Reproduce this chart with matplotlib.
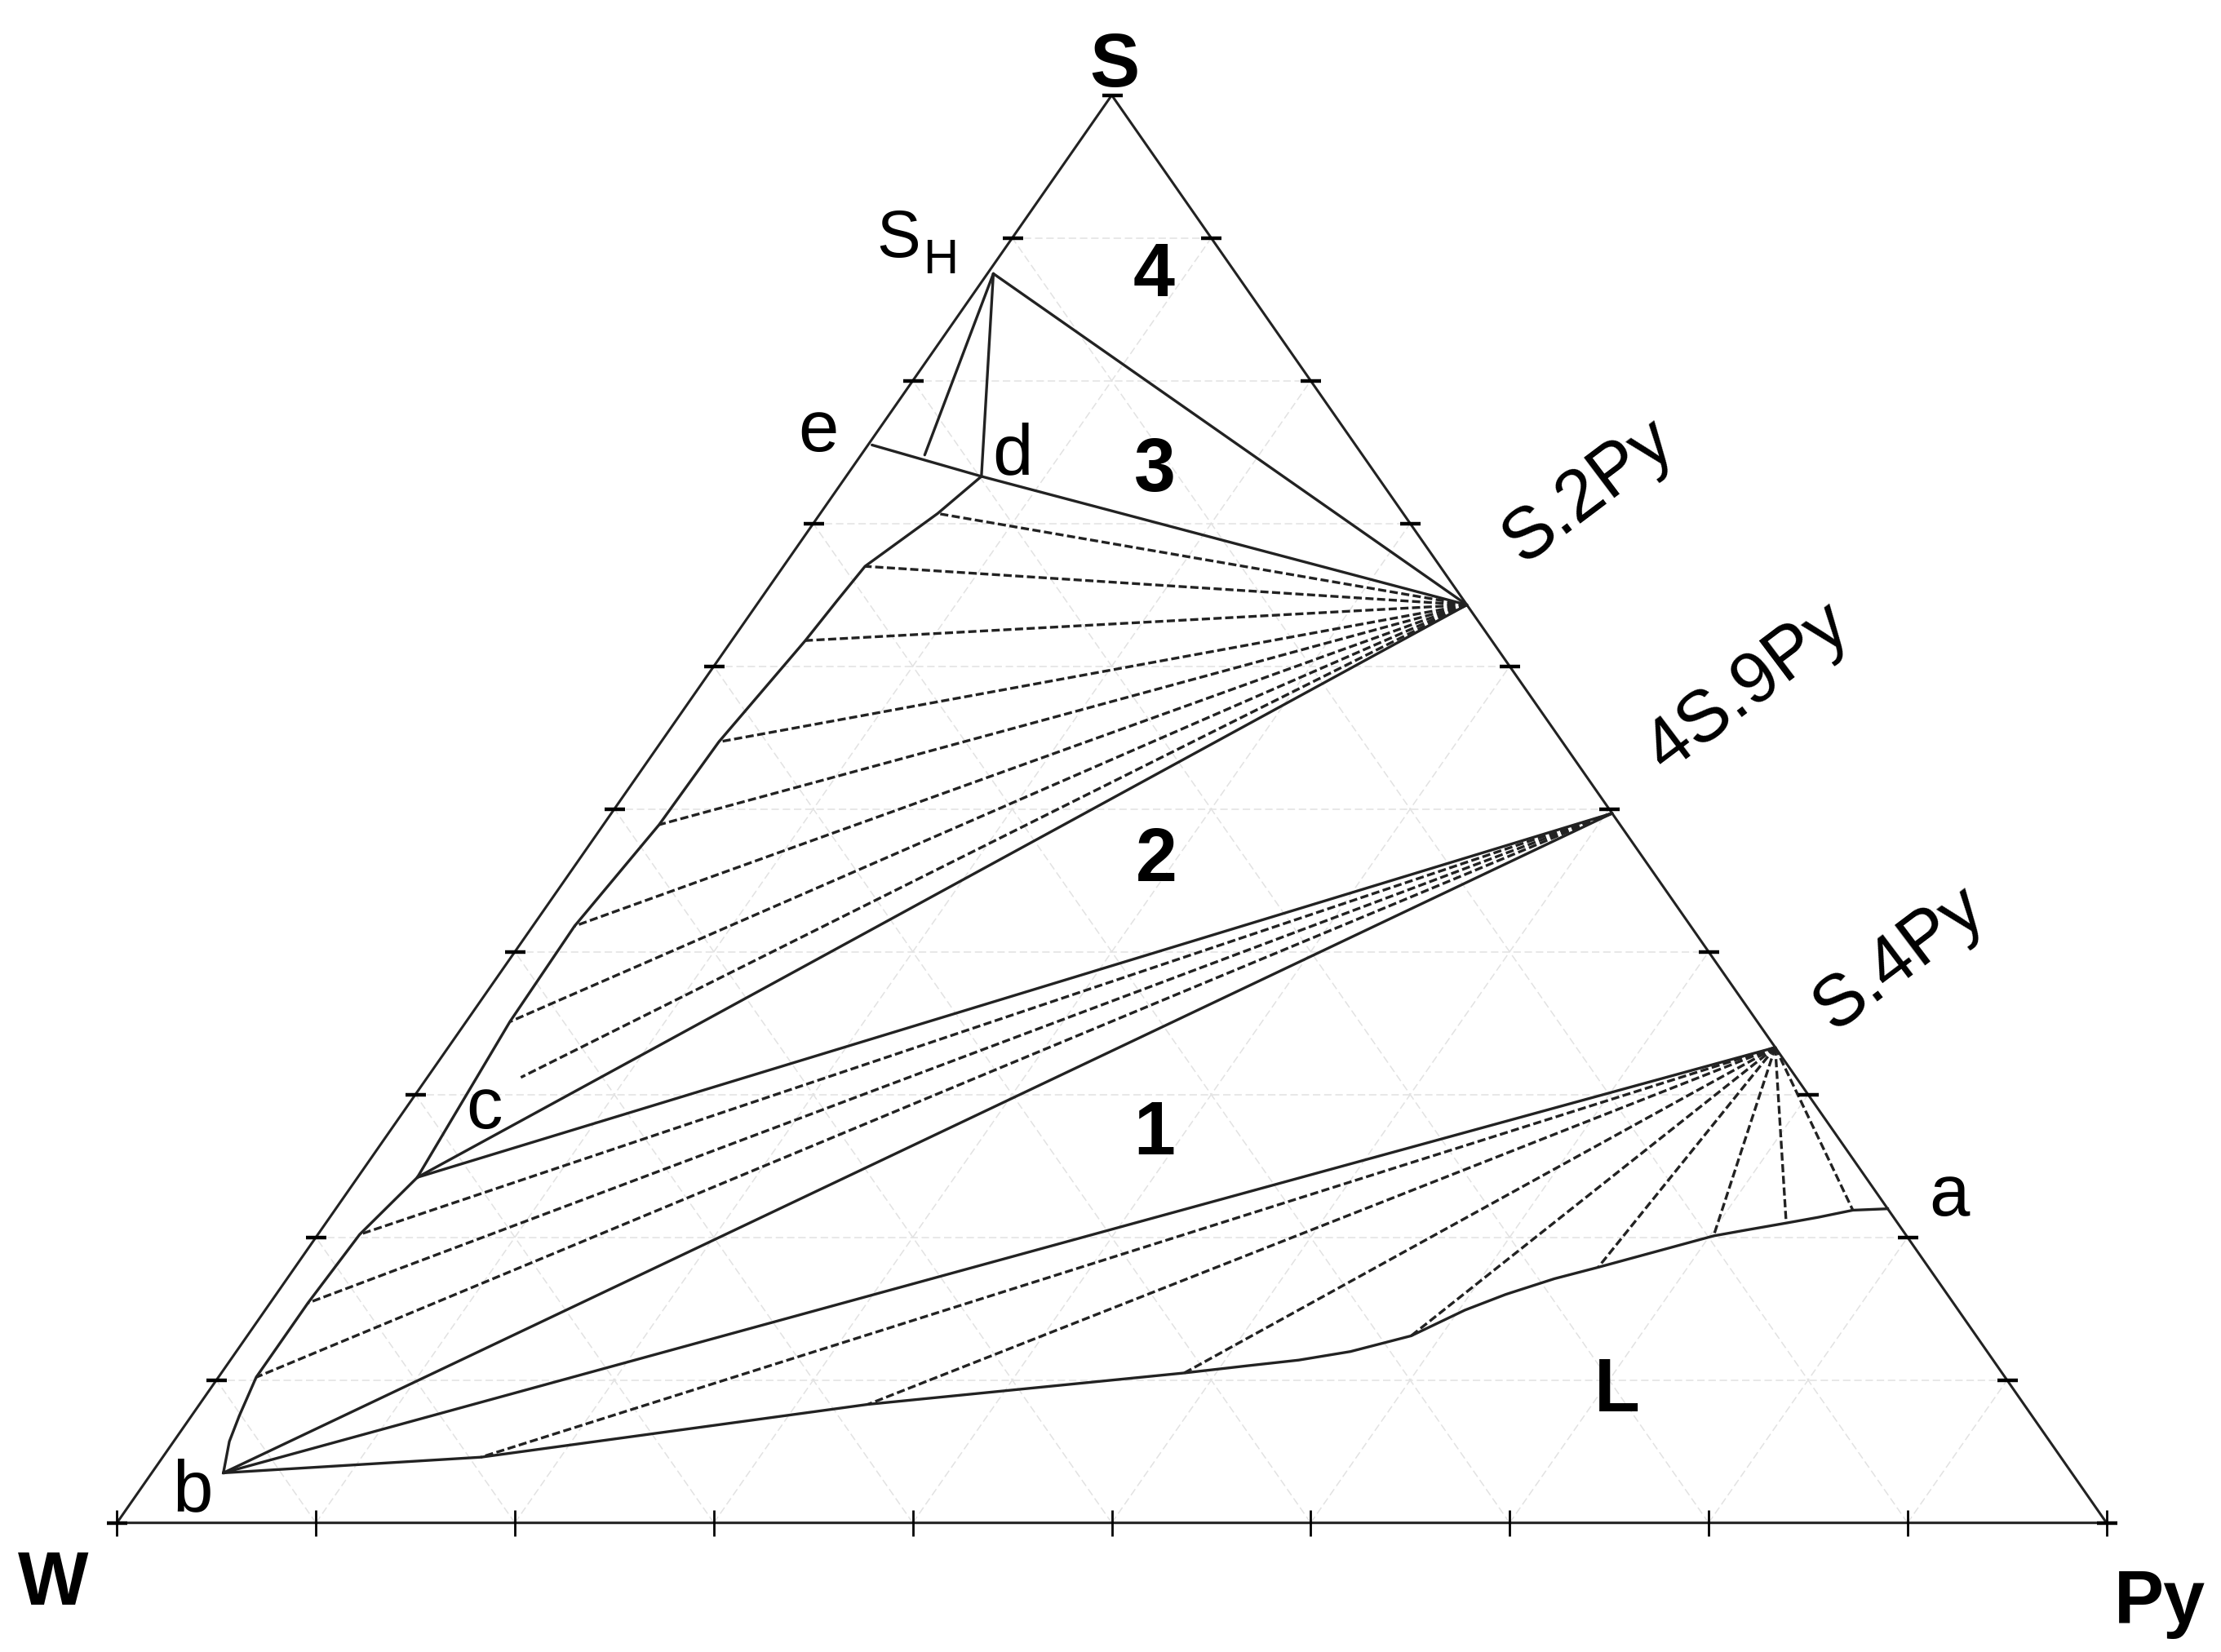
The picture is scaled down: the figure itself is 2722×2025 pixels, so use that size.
import numpy as np
import matplotlib.pyplot as plt

plt.rcParams['font.family'] = ['Liberation Sans', 'DejaVu Sans']

# === Compositions, in percent: (S, Py); W = 100 - S - Py ===
SH = (87.5, 0.3)
E_PT = (75.5, 0.2)
ED_MID = (74.8, 3.2)
D_PT = (73.3, 6.8)
C_PT = (24.2, 3.0)
B_PT = (3.5, 3.6)
A_PT = (22.0, 78.0)
S2PY = (64.3, 35.7)
S49PY = (49.7, 50.3)
S4PY = (33.3, 66.7)

# boundary curve d -> c
dc_S = [73.3, 70.7, 67.0, 64.6, 61.8, 54.7, 48.9, 41.8, 35.1, 24.2]
dc_Py = [6.8, 5.9, 4.1, 3.9, 3.7, 2.9, 2.8, 2.1, 2.2, 3.0]

# boundary curve c -> b
cb_S = [24.2, 20.2, 15.4, 10.2, 7.5, 5.7, 3.5]
cb_Py = [3.0, 2.1, 1.9, 1.9, 2.4, 2.8, 3.6]

# liquidus curve b -> a
L_S = [3.5, 4.6, 8.3, 10.5, 11.0, 11.4, 12.0, 13.1, 14.9, 16.0, 17.1, 17.9,
       20.1, 20.5, 21.0, 21.4, 21.9, 22.0]
L_Py = [3.6, 16.0, 33.6, 48.4, 51.3, 53.7, 56.0, 58.5, 60.3, 61.8, 63.7, 65.5,
        70.2, 71.6, 73.4, 74.8, 76.3, 78.0]

# dashed tie-line ends for each fan
tie1_S = [70.7, 67.0, 61.8, 54.7, 48.9, 41.8, 35.1, 31.2]   # from S.2Py
tie1_Py = [5.9, 4.1, 3.7, 2.9, 2.8, 2.1, 2.2, 4.7]
tie2_S = [20.2, 15.4, 10.2]                                  # from 4S.9Py
tie2_Py = [2.1, 1.9, 1.9]
tie3_S = [4.6, 8.3, 10.5, 13.1, 17.9, 20.1, 21.0, 21.9]       # from S.4Py
tie3_Py = [16.0, 33.6, 48.4, 58.5, 65.5, 70.2, 73.4, 76.3]

grid_levels = [10, 20, 30, 40, 50, 60, 70, 80, 90]
tick_levels = [0, 10, 20, 30, 40, 50, 60, 70, 80, 90, 100]


def to_xy(S, Py):
    S = np.asarray(S, dtype=float)
    Py = np.asarray(Py, dtype=float)
    return (Py + S / 2) / 100, S / 100


LINE_C = '#222222'
LW = 2.4
DASH = (0, (3.0, 1.3))

fig = plt.figure(figsize=(27.22, 20.25), dpi=100)
fig.patch.set_facecolor('white')
ax = fig.add_axes([0.05265, 0.07818, 0.89581, 0.86420])
ax.set_xlim(0, 1)
ax.set_ylim(0, 1)
ax.axis('off')

# --- faint grid ---
for k in grid_levels:
    for S, Py in (([k, k], [0, 100 - k]),            # constant S
                  ([0, 100 - k], [k, k]),            # constant Py
                  ([0, 100 - k], [100 - k, 0])):     # constant W
        x, y = to_xy(S, Py)
        ax.plot(x, y, color='#e2e2e2', lw=1.1, ls=(0, (6, 3)), zorder=1)

# --- triangle frame ---
x, y = to_xy([0, 0, 100, 0], [0, 100, 0, 0])
ax.plot(x, y, color=LINE_C, lw=2.2, zorder=3, clip_on=False)

# --- ticks ---
x, y = to_xy(tick_levels, [0] * len(tick_levels))
ax.plot(x, y, ls='none', marker='_', ms=18, mew=3.2, color='black', zorder=4, clip_on=False)
right_S = tick_levels[:-1]
x, y = to_xy(right_S, [100 - s for s in right_S])
ax.plot(x, y, ls='none', marker='_', ms=18, mew=3.2, color='black', zorder=4, clip_on=False)
x, y = to_xy([0] * len(tick_levels), tick_levels)
ax.plot(x, y, ls='none', marker='|', ms=23, mew=2.0, color='black', zorder=4, clip_on=False)


def seg(p, q, dashed=False):
    x, y = to_xy([p[0], q[0]], [p[1], q[1]])
    ax.plot(x, y, color=LINE_C, lw=LW, ls=DASH if dashed else '-', zorder=3,
            solid_capstyle='round')


# --- solid phase boundaries ---
seg(SH, S2PY)
seg(SH, D_PT)
seg(SH, ED_MID)
seg(E_PT, D_PT)
seg(D_PT, S2PY)
seg(C_PT, S2PY)
seg(C_PT, S49PY)
seg(B_PT, S49PY)
seg(B_PT, S4PY)

for cs, cp in ((dc_S, dc_Py), (cb_S, cb_Py), (L_S, L_Py)):
    x, y = to_xy(cs, cp)
    ax.plot(x, y, color=LINE_C, lw=LW, zorder=3, solid_joinstyle='round')

# --- dashed tie lines ---
for apex, ts, tp in ((S2PY, tie1_S, tie1_Py), (S49PY, tie2_S, tie2_Py), (S4PY, tie3_S, tie3_Py)):
    for s, p in zip(ts, tp):
        seg(apex, (s, p), dashed=True)

# --- labels ---
BIG = 66
REG = 64
ax.text(0.5015, 1.0061, 'S', fontsize=BIG, fontweight='bold', ha='center', va='baseline')
ax.text(-0.0321, -0.0573, 'W', fontsize=BIG, fontweight='bold', ha='center', va='baseline')
ax.text(1.0267, -0.0705, 'Py', fontsize=BIG, fontweight='bold', ha='center', va='baseline')

ax.text(0.382, 0.8867, 'S', fontsize=58, ha='left', va='baseline')
ax.text(0.405, 0.8752, 'H', fontsize=43, ha='left', va='baseline')
ax.text(0.3524, 0.7507, 'e', fontsize=REG, ha='center', va='baseline')
ax.text(0.4502, 0.7341, 'd', fontsize=REG, ha='center', va='baseline')
ax.text(0.1846, 0.2762, 'c', fontsize=REG, ha='center', va='baseline')
ax.text(0.0381, 0.0084, 'b', fontsize=REG, ha='center', va='baseline')
ax.text(0.9210, 0.2153, 'a', fontsize=REG, ha='center', va='baseline')

for label, lx, ly in (('4', 0.5212, 0.8591), ('3', 0.5215, 0.7225),
                      ('2', 0.5224, 0.4495), ('1', 0.5215, 0.2582),
                      ('L', 0.7542, 0.0781)):
    ax.text(lx, ly, label, fontsize=BIG, fontweight='bold', ha='center', va='baseline')

for label, lx, ly in (('S.2Py', 0.7400, 0.7225), ('4S.9Py', 0.8199, 0.5851),
                      ('S.4Py', 0.8961, 0.3951)):
    ax.text(lx, ly, label, fontsize=REG, ha='center', va='center',
            rotation=37, rotation_mode='anchor')

fig.savefig('out.png', dpi=100, facecolor='white')
